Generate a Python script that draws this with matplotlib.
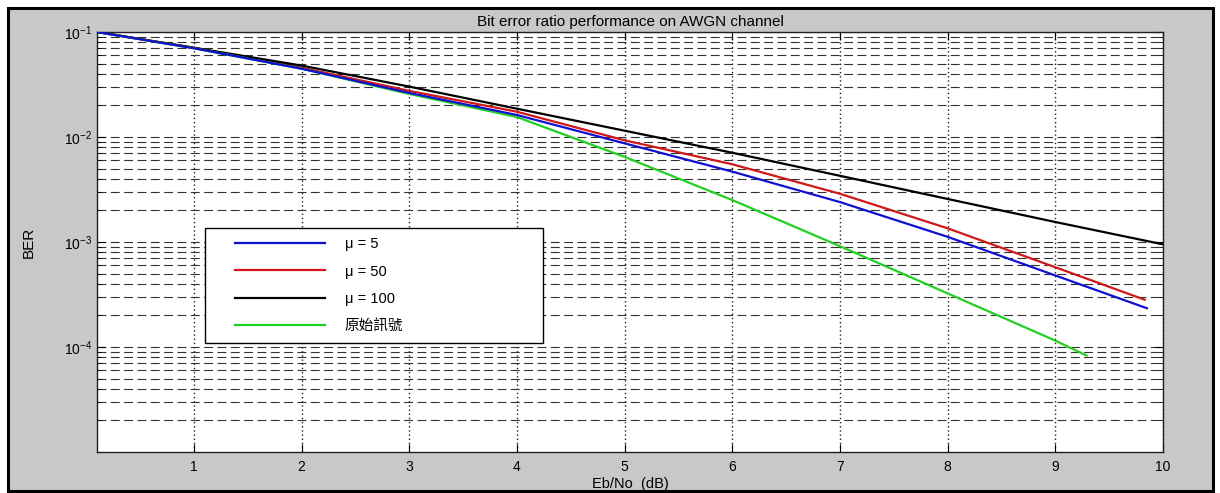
import matplotlib
matplotlib.use('Agg')
import matplotlib.pyplot as plt
from matplotlib.patches import Rectangle
from matplotlib.lines import Line2D
from matplotlib.legend_handler import HandlerLine2D
from matplotlib.ticker import LogLocator, NullFormatter

plt.rcParams['font.family'] = ['Liberation Sans', 'Noto Sans CJK TC', 'DejaVu Sans']

# ---- data ----
ebno = [0.1, 1, 2, 3, 4, 5, 6, 7, 8, 9]

ber_mu5 = [0.1, 0.070, 0.0447, 0.0263, 0.0162, 0.0087, 0.00468, 0.0024, 0.00112, 0.00048]
ber_mu5_end = (9.85, 2.34e-4)

ber_mu50 = [0.1, 0.0708, 0.0457, 0.0275, 0.0174, 0.0093, 0.0055, 0.00288, 0.00135, 0.000575]
ber_mu50_end = (9.83, 2.82e-4)

ber_mu100 = [0.1, 0.0708, 0.0479, 0.0302, 0.0186, 0.01148, 0.00708, 0.00427, 0.00257, 0.00155]
ber_mu100_end = (10.0, 9.5e-4)

ber_orig = [0.1, 0.070, 0.0447, 0.0257, 0.0155, 0.00646, 0.00251, 0.000912, 0.000324, 0.000115]
ber_orig_end = (9.29, 8.3e-5)

labels = ['μ = 5', 'μ = 50', 'μ = 100', '原始訊號']
colors = ['#1010d0', '#d01818', '#000000', '#22d022']
ytick_vals = [1e-4, 1e-3, 1e-2, 1e-1]


class PaddedLine(HandlerLine2D):
    # legend sample drawn only on the right part of the handle box
    def create_artists(self, legend, orig_handle, xdescent, ydescent,
                       width, height, fontsize, trans):
        off = 0.19 * width
        return super().create_artists(legend, orig_handle, xdescent - off, ydescent,
                                      width - off, height, fontsize, trans)


W, H = 1220, 493
fig = plt.figure(figsize=(W / 100, H / 100), dpi=100, facecolor='white')

# gray figure panel with black frame
fig.patches.append(Rectangle((7.5 / W, 2.5 / H), 1205.5 / W, 483 / H,
                             transform=fig.transFigure, facecolor='#c8c8c8',
                             edgecolor='black', linewidth=2.2, zorder=-10))

ax = fig.add_axes([97 / W, 41 / H, 1066 / W, 420 / H])
ax.set_facecolor('white')

series = [(ber_mu5, ber_mu5_end), (ber_mu50, ber_mu50_end),
          (ber_mu100, ber_mu100_end), (ber_orig, ber_orig_end)]
lines = []
for (vals, end), lab, c in zip(series, labels, colors):
    ln, = ax.plot(ebno + [end[0]], vals + [end[1]], color=c, lw=1.6, label=lab)
    lines.append(ln)
lines[0].set_zorder(3)

ax.set_yscale('log')
ax.set_xlim(0.1, 10)
ax.set_ylim(1e-5, 1e-1)
ax.set_xticks(range(1, 11))
ax.set_yticks(ytick_vals)
ax.yaxis.set_minor_locator(LogLocator(base=10, subs=range(2, 10), numticks=20))
ax.yaxis.set_minor_formatter(NullFormatter())

ax.tick_params(which='both', direction='in', top=True, right=True,
               labelsize=10, colors='black')
ax.tick_params(which='major', length=6, width=0.8)
ax.tick_params(which='minor', length=3, width=0.6)
ax.tick_params(axis='x', pad=6)

ax.grid(True, axis='x', which='major', linestyle=(0, (1, 2)), color='#222222', lw=1.0)
ax.grid(True, axis='y', which='both', linestyle=(0, (8, 4)), color='#333333', lw=0.8)
ax.set_axisbelow(True)
for sp in ax.spines.values():
    sp.set_linewidth(1.0)
    sp.set_color('#202020')

ax.set_title('Bit error ratio performance on AWGN channel', fontsize=11, pad=4)
ax.set_xlabel('Eb/No  (dB)', fontsize=10.5, labelpad=2)
ax.set_ylabel('BER', fontsize=11, labelpad=20)

leg = ax.legend(handles=lines, loc='upper left', bbox_to_anchor=(0.101, 0.533, 0.317, 0),
                mode='expand', fontsize=10.5, frameon=True, fancybox=False,
                framealpha=1, edgecolor='black', handlelength=7.6,
                handletextpad=1.37, labelspacing=0.92, borderpad=0.62,
                borderaxespad=0, handler_map={Line2D: PaddedLine()})
leg.get_frame().set_linewidth(1.0)

fig.savefig('out.png', dpi=100, facecolor=fig.get_facecolor())
